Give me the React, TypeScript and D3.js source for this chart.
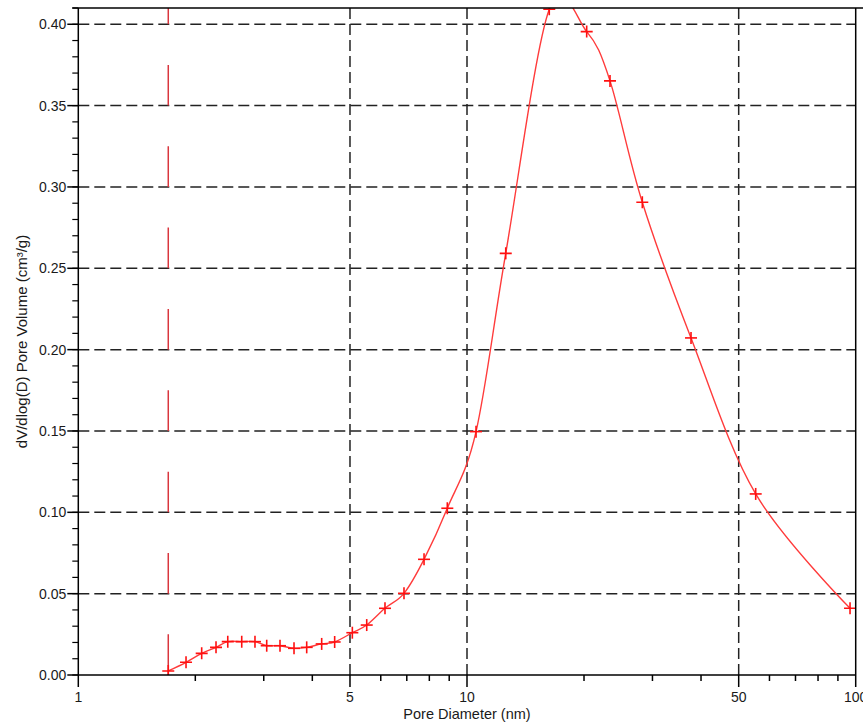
import React from "react";
import * as d3 from "d3";

const diameters = [1.704, 1.893, 2.077, 2.261, 2.424, 2.633, 2.848, 3.053, 3.303, 3.589, 3.869, 4.228, 4.566, 5.07, 5.521, 6.152, 6.885, 7.753, 8.899, 10.55, 12.58, 16.28, 20.32, 23.33, 28.25, 37.7, 55.3, 96.7];
const poreVolume = [0.0025, 0.0078, 0.0133, 0.017, 0.0205, 0.0205, 0.0205, 0.018, 0.018, 0.0164, 0.017, 0.0191, 0.0203, 0.026, 0.0307, 0.041, 0.0502, 0.0711, 0.1025, 0.1496, 0.2592, 0.4092, 0.3955, 0.3652, 0.2906, 0.2072, 0.1113, 0.041];
const xTickValues = [1, 5, 10, 50, 100];
const xTickLabels = ["1", "5", "10", "50", "100"];
const xMinorTicks = [2, 3, 4, 6, 7, 8, 9, 20, 30, 40, 60, 70, 80, 90];
const yTickValues = [0, 0.05, 0.1, 0.15, 0.2, 0.25, 0.3, 0.35, 0.4];
const xGridValues = [5, 10, 50];
const boundaryDiameter = 1.704;
const xTitle = "Pore Diameter (nm)";
const yTitle = "dV/dlog(D) Pore Volume (cm³/g)";

const W = 863;
const H = 726;
const left = 78.3;
const right = 855.7;
const top = 8;
const bottom = 675;

export default function App() {
  const x = d3.scaleLog().domain([1, 100]).range([left, right]);
  const y = d3.scaleLinear().domain([0, 0.41]).range([bottom, top]);
  const yMinor = d3.range(0, 0.41 + 1e-9, 0.01).map((v) => +v.toFixed(2));
  const pts: [number, number][] = diameters.map((d, i) => [x(d), y(poreVolume[i])]);
  const line = d3.line().curve(d3.curveCatmullRom.alpha(0))(pts) || "";
  const dashLen = y(0) - y(0.025);
  const font = "'Liberation Sans', Arial, sans-serif";
  const textColor = "#1a1a1a";
  const gridColor = "#222";

  return (
    <svg width={W} height={H} style={{ position: "absolute", left: 0, top: 0, background: "#fff" }}>
      <defs>
        <clipPath id="plotClip">
          <rect x={left} y={top} width={right - left} height={bottom - top} />
        </clipPath>
      </defs>
      <rect x={0} y={0} width={W} height={H} fill="#fff" />
      {/* grid */}
      {yTickValues.filter((v) => v > 0).map((v) => (
        <line key={"gy" + v} x1={left} x2={right} y1={y(v)} y2={y(v)} stroke={gridColor} strokeWidth={1.5} strokeDasharray="11,5" />
      ))}
      {xGridValues.map((v) => (
        <line key={"gx" + v} x1={x(v)} x2={x(v)} y1={bottom} y2={top} stroke={gridColor} strokeWidth={1.5} strokeDasharray="11,5" />
      ))}
      {/* boundary dashed line */}
      <line x1={x(boundaryDiameter)} x2={x(boundaryDiameter)} y1={y(0)} y2={top} stroke="#d9363e" strokeWidth={1.5} strokeDasharray={`${dashLen},${dashLen}`} />
      {/* data */}
      <g clipPath="url(#plotClip)">
        <path d={line} fill="none" stroke="#ff3b3b" strokeWidth={1.4} />
        {pts.map(([px, py], i) => (
          <g key={"m" + i} stroke="#ff1010" strokeWidth={1.6}>
            <line x1={px - 6} x2={px + 6} y1={py} y2={py} />
            <line x1={px} x2={px} y1={py - 6} y2={py + 6} />
          </g>
        ))}
      </g>
      {/* frame */}
      <line x1={left - 6} x2={W} y1={top} y2={top} stroke="#000" strokeWidth={1.5} />
      <line x1={right} x2={right} y1={top} y2={bottom} stroke="#000" strokeWidth={1.5} />
      <line x1={left} x2={left} y1={top} y2={bottom} stroke="#000" strokeWidth={1.5} />
      <line x1={left} x2={right} y1={bottom} y2={bottom} stroke="#000" strokeWidth={1.5} />
      {/* y ticks */}
      {yMinor.map((v) => (
        <line key={"ym" + v} x1={left - 6} x2={left} y1={y(v)} y2={y(v)} stroke="#000" strokeWidth={1.2} />
      ))}
      {yTickValues.map((v) => (
        <g key={"yt" + v}>
          <line x1={left - 11} x2={left} y1={y(v)} y2={y(v)} stroke="#000" strokeWidth={1.5} />
          <text x={left - 12} y={y(v)} dy="0.35em" textAnchor="end" fontFamily={font} fontSize={14} fill={textColor}>
            {d3.format(".2f")(v)}
          </text>
        </g>
      ))}
      {/* x ticks */}
      {xMinorTicks.map((v) => (
        <line key={"xm" + v} x1={x(v)} x2={x(v)} y1={bottom} y2={bottom + 6} stroke="#000" strokeWidth={1.5} />
      ))}
      {xTickValues.map((v, i) => (
        <g key={"xt" + v}>
          <line x1={x(v)} x2={x(v)} y1={bottom} y2={bottom + 12} stroke="#000" strokeWidth={1.5} />
          <text x={x(v)} y={697} dy="0.35em" textAnchor="middle" fontFamily={font} fontSize={14} fill={textColor}>
            {xTickLabels[i]}
          </text>
        </g>
      ))}
      <text x={x(10)} y={714} dy="0.35em" textAnchor="middle" fontFamily={font} fontSize={14.5} fill={textColor}>
        {xTitle}
      </text>
      <text transform={`translate(21.5,${341.5}) rotate(-90)`} dy="0.35em" textAnchor="middle" fontFamily={font} fontSize={15} fill={textColor}>
        {yTitle}
      </text>
    </svg>
  );
}
